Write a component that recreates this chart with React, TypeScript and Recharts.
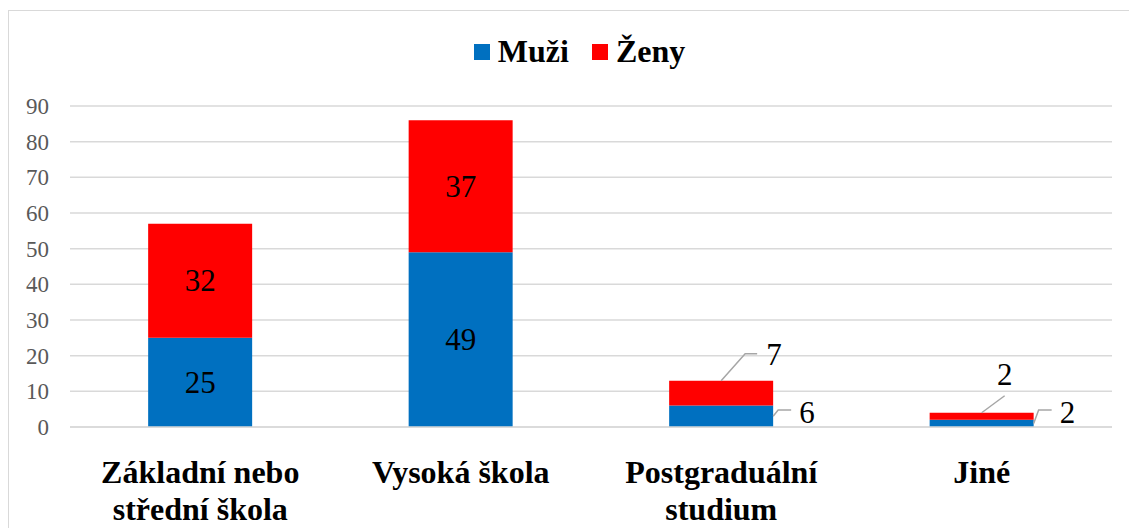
import React from "react"
import { Bar, BarChart, CartesianGrid, LabelList, XAxis, YAxis } from "recharts"

const categories = ["Základní nebo\nstřední škola", "Vysoká škola", "Postgraduální\nstudium", "Jiné"]
const muzi = [25, 49, 6, 2]
const zeny = [32, 37, 7, 2]
const yTicks = [0, 10, 20, 30, 40, 50, 60, 70, 80, 90]

const data = categories.map((name, i) => ({ name, muzi: muzi[i], zeny: zeny[i] }))

const FONT = "Liberation Serif"
const BLUE = "#0070C0"
const RED = "#FF0000"
const LEADER = "#A6A6A6"

// where Excel pushed the small red labels out of the bar
const zenyCallouts: Record<number, { dx: number; dy: number; side: "right" | "above" }> = {
  2: { dx: 24, dy: -27, side: "right" },
  3: { dx: 23, dy: -17, side: "above" },
}

function CategoryTick(props: any) {
  const { x, y, payload } = props
  const lines = String(payload.value).split("\n")
  return (
    <text x={x} y={y + 48} textAnchor="middle" style={{ fontFamily: FONT }} fontSize={32} fontWeight="bold" fill="#000">
      {lines.map((l, i) => (
        <tspan key={i} x={x} dy={i === 0 ? 0 : 37}>
          {l}
        </tspan>
      ))}
    </text>
  )
}

function MuziLabel(props: any) {
  const { x, y, width, height, value } = props
  if (height >= 30) {
    return (
      <text x={x + width / 2} y={y + height / 2} textAnchor="middle" dominantBaseline="central" style={{ fontFamily: FONT }} fontSize={31} fill="#000">
        {value}
      </text>
    )
  }
  const bottom = y + height
  const right = x + width
  return (
    <g>
      <polyline
        points={`${right},${y + height / 2} ${right + 5},${bottom - 17} ${right + 18},${bottom - 17}`}
        fill="none"
        stroke={LEADER}
        strokeWidth={1.5}
      />
      <text x={right + 26} y={bottom - 15} dominantBaseline="central" style={{ fontFamily: FONT }} fontSize={31} fill="#000">
        {value}
      </text>
    </g>
  )
}

function ZenyLabel(props: any) {
  const { x, y, width, height, value, index } = props
  const c = zenyCallouts[index]
  const cx = x + width / 2
  if (!c) {
    return (
      <text x={cx} y={y + height / 2} textAnchor="middle" dominantBaseline="central" style={{ fontFamily: FONT }} fontSize={31} fill="#000">
        {value}
      </text>
    )
  }
  const ex = cx + c.dx
  const ey = y + c.dy
  if (c.side === "right") {
    return (
      <g>
        <polyline points={`${cx},${y} ${ex},${ey} ${ex + 12},${ey}`} fill="none" stroke={LEADER} strokeWidth={1.5} />
        <text x={ex + 21} y={ey + 1} dominantBaseline="central" style={{ fontFamily: FONT }} fontSize={31} fill="#000">
          {value}
        </text>
      </g>
    )
  }
  return (
    <g>
      <line x1={cx} y1={y} x2={ex} y2={ey} stroke={LEADER} strokeWidth={1.5} />
      <text x={ex} y={ey - 21} textAnchor="middle" dominantBaseline="central" style={{ fontFamily: FONT }} fontSize={31} fill="#000">
        {value}
      </text>
    </g>
  )
}

function LegendBox() {
  const items = [
    { label: "Muži", color: BLUE },
    { label: "Ženy", color: RED },
  ]
  return (
    <div
      style={{
        position: "absolute",
        top: 32,
        left: 0,
        width: 1159,
        display: "flex",
        justifyContent: "center",
        gap: 23,
        fontFamily: FONT,
        fontSize: 32,
        fontWeight: "bold",
        lineHeight: "38px",
      }}
    >
      {items.map((it) => (
        <div key={it.label} style={{ display: "flex", alignItems: "center" }}>
          <span style={{ width: 16, height: 16, background: it.color, display: "inline-block", marginRight: 8, marginTop: 2 }} />
          <span>{it.label}</span>
        </div>
      ))}
    </div>
  )
}

export default function App() {
  return (
    <div style={{ position: "absolute", left: 0, top: 0, width: 1129, height: 528, overflow: "hidden", background: "#fff", fontFamily: FONT }}>
      <div style={{ position: "absolute", left: 8, top: 10, width: 1200, height: 600, border: "1px solid #D9D9D9" }} />
      <LegendBox />
      <div style={{ position: "absolute", left: 0, top: 0 }}>
        <BarChart width={1129} height={528} data={data} margin={{ top: 106, right: 17, left: 0, bottom: 0 }} barCategoryGap="30%">
          <CartesianGrid vertical={false} stroke="#D9D9D9" strokeWidth={1.5} />
          <XAxis
            dataKey="name"
            height={101}
            interval={0}
            tickLine={false}
            axisLine={{ stroke: "#D9D9D9", strokeWidth: 1.5 }}
            tick={<CategoryTick />}
          />
          <YAxis
            width={70}
            domain={[0, 90]}
            ticks={yTicks}
            tickLine={false}
            axisLine={false}
            tickSize={0}
            tickMargin={21}
            tick={{ fill: "#595959", fontSize: 23, style: { fontFamily: FONT } }}
          />
          <Bar dataKey="muzi" stackId="a" fill={BLUE} isAnimationActive={false}>
            <LabelList dataKey="muzi" content={<MuziLabel />} />
          </Bar>
          <Bar dataKey="zeny" stackId="a" fill={RED} isAnimationActive={false}>
            <LabelList dataKey="zeny" content={<ZenyLabel />} />
          </Bar>
        </BarChart>
      </div>
    </div>
  )
}
